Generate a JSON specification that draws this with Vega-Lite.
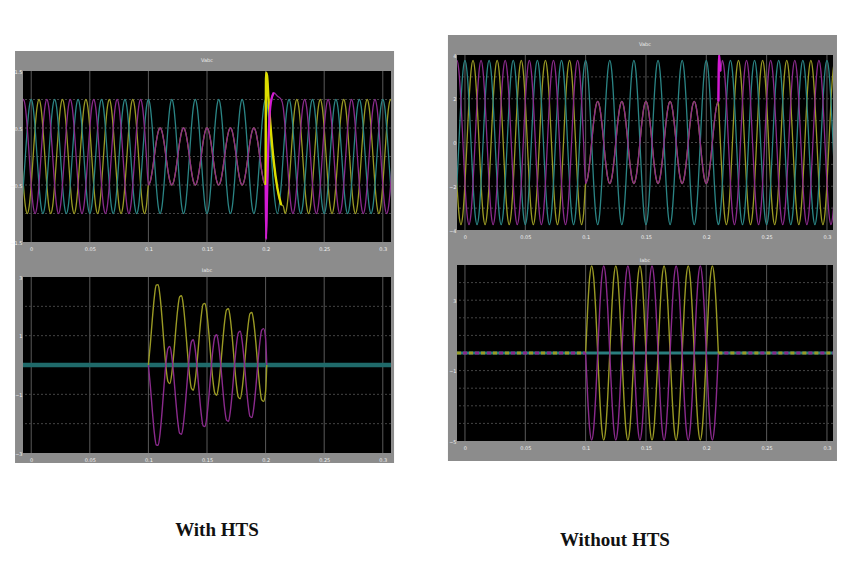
{
  "$schema": "https://vega.github.io/schema/vega-lite/v6.json",
  "background": "#ffffff",
  "padding": {"left": 9, "top": 10, "right": 0, "bottom": 0},
  "spacing": 52,
  "config": {
    "view": {"stroke": null},
    "axis": {"domain": false, "ticks": false, "grid": false, "labelFontSize": 5, "labelColor": "#f0f0f0", "labelFont": "DejaVu Sans", "zindex": 1, "labelOverlap": false, "labelFlush": false},
    "axisX": {"labelPadding": 4},
    "axisY": {"labelPadding": 1},
    "title": {"fontSize": 5, "color": "#eeeeee", "font": "DejaVu Sans", "fontWeight": "normal", "offset": -12, "anchor": "middle"}
  },
  "datasets": {
    "xg": [{"g": 0}, {"g": 50}, {"g": 100}, {"g": 150}, {"g": 200}, {"g": 250}, {"g": 300}],
    "lt": [
      {"t":-8.33,"a":-0.866,"b":0,"c":0.866},{"t":-6.67,"a":-0.5,"b":-0.5,"c":1},{"t":-5,"a":0,"b":-0.866,"c":0.866},{"t":-3.33,"a":0.5,"b":-1,"c":0.5},{"t":-1.67,"a":0.866,"b":-0.866,"c":0},
      {"t":0,"a":1,"b":-0.5,"c":-0.5},{"t":1.67,"a":0.866,"b":0,"c":-0.866},{"t":3.33,"a":0.5,"b":0.5,"c":-1},{"t":5,"a":0,"b":0.866,"c":-0.866},{"t":6.67,"a":-0.5,"b":1,"c":-0.5},{"t":8.33,"a":-0.866,"b":0.866,"c":0},{"t":10,"a":-1,"b":0.5,"c":0.5},{"t":11.67,"a":-0.866,"b":0,"c":0.866},{"t":13.33,"a":-0.5,"b":-0.5,"c":1},{"t":15,"a":0,"b":-0.866,"c":0.866},{"t":16.67,"a":0.5,"b":-1,"c":0.5},{"t":18.33,"a":0.866,"b":-0.866,"c":0},
      {"t":20,"a":1,"b":-0.5,"c":-0.5},{"t":21.67,"a":0.866,"b":0,"c":-0.866},{"t":23.33,"a":0.5,"b":0.5,"c":-1},{"t":25,"a":0,"b":0.866,"c":-0.866},{"t":26.67,"a":-0.5,"b":1,"c":-0.5},{"t":28.33,"a":-0.866,"b":0.866,"c":0},{"t":30,"a":-1,"b":0.5,"c":0.5},{"t":31.67,"a":-0.866,"b":0,"c":0.866},{"t":33.33,"a":-0.5,"b":-0.5,"c":1},{"t":35,"a":0,"b":-0.866,"c":0.866},{"t":36.67,"a":0.5,"b":-1,"c":0.5},{"t":38.33,"a":0.866,"b":-0.866,"c":0},
      {"t":40,"a":1,"b":-0.5,"c":-0.5},{"t":41.67,"a":0.866,"b":0,"c":-0.866},{"t":43.33,"a":0.5,"b":0.5,"c":-1},{"t":45,"a":0,"b":0.866,"c":-0.866},{"t":46.67,"a":-0.5,"b":1,"c":-0.5},{"t":48.33,"a":-0.866,"b":0.866,"c":0},{"t":50,"a":-1,"b":0.5,"c":0.5},{"t":51.67,"a":-0.866,"b":0,"c":0.866},{"t":53.33,"a":-0.5,"b":-0.5,"c":1},{"t":55,"a":0,"b":-0.866,"c":0.866},{"t":56.67,"a":0.5,"b":-1,"c":0.5},{"t":58.33,"a":0.866,"b":-0.866,"c":0},
      {"t":60,"a":1,"b":-0.5,"c":-0.5},{"t":61.67,"a":0.866,"b":0,"c":-0.866},{"t":63.33,"a":0.5,"b":0.5,"c":-1},{"t":65,"a":0,"b":0.866,"c":-0.866},{"t":66.67,"a":-0.5,"b":1,"c":-0.5},{"t":68.33,"a":-0.866,"b":0.866,"c":0},{"t":70,"a":-1,"b":0.5,"c":0.5},{"t":71.67,"a":-0.866,"b":0,"c":0.866},{"t":73.33,"a":-0.5,"b":-0.5,"c":1},{"t":75,"a":0,"b":-0.866,"c":0.866},{"t":76.67,"a":0.5,"b":-1,"c":0.5},{"t":78.33,"a":0.866,"b":-0.866,"c":0},
      {"t":80,"a":1,"b":-0.5,"c":-0.5},{"t":81.67,"a":0.866,"b":0,"c":-0.866},{"t":83.33,"a":0.5,"b":0.5,"c":-1},{"t":85,"a":0,"b":0.866,"c":-0.866},{"t":86.67,"a":-0.5,"b":1,"c":-0.5},{"t":88.33,"a":-0.866,"b":0.866,"c":0},{"t":90,"a":-1,"b":0.5,"c":0.5},{"t":91.67,"a":-0.866,"b":0,"c":0.866},{"t":93.33,"a":-0.5,"b":-0.5,"c":1},{"t":95,"a":0,"b":-0.866,"c":0.866},{"t":96.67,"a":0.5,"b":-1,"c":0.5},{"t":98.33,"a":0.866,"b":-0.866,"c":0},
      {"t":100,"a":1,"b":-0.5,"c":-0.5},{"t":101.67,"a":0.866,"b":-0.433,"c":-0.433},{"t":103.33,"a":0.5,"b":-0.25,"c":-0.25},{"t":105,"a":0,"b":0,"c":0},{"t":106.67,"a":-0.5,"b":0.25,"c":0.25},{"t":108.33,"a":-0.866,"b":0.433,"c":0.433},{"t":110,"a":-1,"b":0.5,"c":0.5},{"t":111.67,"a":-0.866,"b":0.433,"c":0.433},{"t":113.33,"a":-0.5,"b":0.25,"c":0.25},{"t":115,"a":0,"b":0,"c":0},{"t":116.67,"a":0.5,"b":-0.25,"c":-0.25},{"t":118.33,"a":0.866,"b":-0.433,"c":-0.433},
      {"t":120,"a":1,"b":-0.5,"c":-0.5},{"t":121.67,"a":0.866,"b":-0.433,"c":-0.433},{"t":123.33,"a":0.5,"b":-0.25,"c":-0.25},{"t":125,"a":0,"b":0,"c":0},{"t":126.67,"a":-0.5,"b":0.25,"c":0.25},{"t":128.33,"a":-0.866,"b":0.433,"c":0.433},{"t":130,"a":-1,"b":0.5,"c":0.5},{"t":131.67,"a":-0.866,"b":0.433,"c":0.433},{"t":133.33,"a":-0.5,"b":0.25,"c":0.25},{"t":135,"a":0,"b":0,"c":0},{"t":136.67,"a":0.5,"b":-0.25,"c":-0.25},{"t":138.33,"a":0.866,"b":-0.433,"c":-0.433},
      {"t":140,"a":1,"b":-0.5,"c":-0.5},{"t":141.67,"a":0.866,"b":-0.433,"c":-0.433},{"t":143.33,"a":0.5,"b":-0.25,"c":-0.25},{"t":145,"a":0,"b":0,"c":0},{"t":146.67,"a":-0.5,"b":0.25,"c":0.25},{"t":148.33,"a":-0.866,"b":0.433,"c":0.433},{"t":150,"a":-1,"b":0.5,"c":0.5},{"t":151.67,"a":-0.866,"b":0.433,"c":0.433},{"t":153.33,"a":-0.5,"b":0.25,"c":0.25},{"t":155,"a":0,"b":0,"c":0},{"t":156.67,"a":0.5,"b":-0.25,"c":-0.25},{"t":158.33,"a":0.866,"b":-0.433,"c":-0.433},
      {"t":160,"a":1,"b":-0.5,"c":-0.5},{"t":161.67,"a":0.866,"b":-0.433,"c":-0.433},{"t":163.33,"a":0.5,"b":-0.25,"c":-0.25},{"t":165,"a":0,"b":0,"c":0},{"t":166.67,"a":-0.5,"b":0.25,"c":0.25},{"t":168.33,"a":-0.866,"b":0.433,"c":0.433},{"t":170,"a":-1,"b":0.5,"c":0.5},{"t":171.67,"a":-0.866,"b":0.433,"c":0.433},{"t":173.33,"a":-0.5,"b":0.25,"c":0.25},{"t":175,"a":0,"b":0,"c":0},{"t":176.67,"a":0.5,"b":-0.25,"c":-0.25},{"t":178.33,"a":0.866,"b":-0.433,"c":-0.433},
      {"t":180,"a":1,"b":-0.5,"c":-0.5},{"t":181.67,"a":0.866,"b":-0.433,"c":-0.433},{"t":183.33,"a":0.5,"b":-0.25,"c":-0.25},{"t":185,"a":0,"b":0,"c":0},{"t":186.67,"a":-0.5,"b":0.25,"c":0.25},{"t":188.33,"a":-0.866,"b":0.433,"c":0.433},{"t":190,"a":-1,"b":0.5,"c":0.5},{"t":191.67,"a":-0.866,"b":0.433,"c":0.433},{"t":193.33,"a":-0.5,"b":0.25,"c":0.25},{"t":195,"a":0,"b":0,"c":0},{"t":196.67,"a":0.5,"b":-0.25,"c":-0.25},{"t":198.33,"a":0.866,"b":-0.433,"c":-0.433},
      {"t":200,"a":1,"b":-0.5,"c":-0.5},{"t":200.4,"a":0.992,"b":1.47,"c":-1.45},{"t":201.2,"a":0.93,"b":1.42,"c":-0.75},{"t":202.5,"a":0.707,"b":1,"c":0.3},{"t":204.5,"a":0.156,"b":0.45,"c":0.95},{"t":207,"a":-0.588,"b":-0.1,"c":1.12},{"t":210,"a":-1,"b":-0.55,"c":1.06},{"t":213.33,"a":-0.5,"b":-0.85,"c":1},{"t":215,"a":0,"b":-0.866,"c":0.866},{"t":216.67,"a":0.5,"b":-1,"c":0.5},{"t":218.33,"a":0.866,"b":-0.866,"c":0},
      {"t":220,"a":1,"b":-0.5,"c":-0.5},{"t":221.67,"a":0.866,"b":0,"c":-0.866},{"t":223.33,"a":0.5,"b":0.5,"c":-1},{"t":225,"a":0,"b":0.866,"c":-0.866},{"t":226.67,"a":-0.5,"b":1,"c":-0.5},{"t":228.33,"a":-0.866,"b":0.866,"c":0},{"t":230,"a":-1,"b":0.5,"c":0.5},{"t":231.67,"a":-0.866,"b":0,"c":0.866},{"t":233.33,"a":-0.5,"b":-0.5,"c":1},{"t":235,"a":0,"b":-0.866,"c":0.866},{"t":236.67,"a":0.5,"b":-1,"c":0.5},{"t":238.33,"a":0.866,"b":-0.866,"c":0},
      {"t":240,"a":1,"b":-0.5,"c":-0.5},{"t":241.67,"a":0.866,"b":0,"c":-0.866},{"t":243.33,"a":0.5,"b":0.5,"c":-1},{"t":245,"a":0,"b":0.866,"c":-0.866},{"t":246.67,"a":-0.5,"b":1,"c":-0.5},{"t":248.33,"a":-0.866,"b":0.866,"c":0},{"t":250,"a":-1,"b":0.5,"c":0.5},{"t":251.67,"a":-0.866,"b":0,"c":0.866},{"t":253.33,"a":-0.5,"b":-0.5,"c":1},{"t":255,"a":0,"b":-0.866,"c":0.866},{"t":256.67,"a":0.5,"b":-1,"c":0.5},{"t":258.33,"a":0.866,"b":-0.866,"c":0},
      {"t":260,"a":1,"b":-0.5,"c":-0.5},{"t":261.67,"a":0.866,"b":0,"c":-0.866},{"t":263.33,"a":0.5,"b":0.5,"c":-1},{"t":265,"a":0,"b":0.866,"c":-0.866},{"t":266.67,"a":-0.5,"b":1,"c":-0.5},{"t":268.33,"a":-0.866,"b":0.866,"c":0},{"t":270,"a":-1,"b":0.5,"c":0.5},{"t":271.67,"a":-0.866,"b":0,"c":0.866},{"t":273.33,"a":-0.5,"b":-0.5,"c":1},{"t":275,"a":0,"b":-0.866,"c":0.866},{"t":276.67,"a":0.5,"b":-1,"c":0.5},{"t":278.33,"a":0.866,"b":-0.866,"c":0},
      {"t":280,"a":1,"b":-0.5,"c":-0.5},{"t":281.67,"a":0.866,"b":0,"c":-0.866},{"t":283.33,"a":0.5,"b":0.5,"c":-1},{"t":285,"a":0,"b":0.866,"c":-0.866},{"t":286.67,"a":-0.5,"b":1,"c":-0.5},{"t":288.33,"a":-0.866,"b":0.866,"c":0},{"t":290,"a":-1,"b":0.5,"c":0.5},{"t":291.67,"a":-0.866,"b":0,"c":0.866},{"t":293.33,"a":-0.5,"b":-0.5,"c":1},{"t":295,"a":0,"b":-0.866,"c":0.866},{"t":296.67,"a":0.5,"b":-1,"c":0.5},{"t":298.33,"a":0.866,"b":-0.866,"c":0},
      {"t":300,"a":1,"b":-0.5,"c":-0.5},{"t":301.67,"a":0.866,"b":0,"c":-0.866},{"t":303.33,"a":0.5,"b":0.5,"c":-1},{"t":305,"a":0,"b":0.866,"c":-0.866},{"t":306.67,"a":-0.5,"b":1,"c":-0.5},{"t":308.33,"a":-0.866,"b":0.866,"c":0},{"t":310,"a":-1,"b":0.5,"c":0.5}
    ],
    "ltSpike": [
      {"t":200,"b":-0.5,"c":-0.5},{"t":200.4,"b":1.47,"c":-1.45},{"t":201.2,"b":1.42,"c":-0.75},{"t":202.5,"b":1,"c":0.3},{"t":204.5,"b":0.45,"c":0.95},{"t":207,"b":-0.1,"c":1.12},{"t":210,"b":-0.55,"c":1.06},{"t":213.33,"b":-0.85,"c":1}
    ],
    "rt": [
      {"t":-8.33,"a":-3.25,"b":0,"c":3.25},{"t":-6.67,"a":-1.88,"b":-1.88,"c":3.75},{"t":-5,"a":0,"b":-3.25,"c":3.25},{"t":-3.33,"a":1.88,"b":-3.75,"c":1.88},{"t":-1.67,"a":3.25,"b":-3.25,"c":0},
      {"t":0,"a":3.75,"b":-1.88,"c":-1.88},{"t":1.67,"a":3.25,"b":0,"c":-3.25},{"t":3.33,"a":1.88,"b":1.88,"c":-3.75},{"t":5,"a":0,"b":3.25,"c":-3.25},{"t":6.67,"a":-1.88,"b":3.75,"c":-1.88},{"t":8.33,"a":-3.25,"b":3.25,"c":0},{"t":10,"a":-3.75,"b":1.88,"c":1.88},{"t":11.67,"a":-3.25,"b":0,"c":3.25},{"t":13.33,"a":-1.88,"b":-1.88,"c":3.75},{"t":15,"a":0,"b":-3.25,"c":3.25},{"t":16.67,"a":1.88,"b":-3.75,"c":1.88},{"t":18.33,"a":3.25,"b":-3.25,"c":0},
      {"t":20,"a":3.75,"b":-1.88,"c":-1.88},{"t":21.67,"a":3.25,"b":0,"c":-3.25},{"t":23.33,"a":1.88,"b":1.88,"c":-3.75},{"t":25,"a":0,"b":3.25,"c":-3.25},{"t":26.67,"a":-1.88,"b":3.75,"c":-1.88},{"t":28.33,"a":-3.25,"b":3.25,"c":0},{"t":30,"a":-3.75,"b":1.88,"c":1.88},{"t":31.67,"a":-3.25,"b":0,"c":3.25},{"t":33.33,"a":-1.88,"b":-1.88,"c":3.75},{"t":35,"a":0,"b":-3.25,"c":3.25},{"t":36.67,"a":1.88,"b":-3.75,"c":1.88},{"t":38.33,"a":3.25,"b":-3.25,"c":0},
      {"t":40,"a":3.75,"b":-1.88,"c":-1.88},{"t":41.67,"a":3.25,"b":0,"c":-3.25},{"t":43.33,"a":1.88,"b":1.88,"c":-3.75},{"t":45,"a":0,"b":3.25,"c":-3.25},{"t":46.67,"a":-1.88,"b":3.75,"c":-1.88},{"t":48.33,"a":-3.25,"b":3.25,"c":0},{"t":50,"a":-3.75,"b":1.88,"c":1.88},{"t":51.67,"a":-3.25,"b":0,"c":3.25},{"t":53.33,"a":-1.88,"b":-1.88,"c":3.75},{"t":55,"a":0,"b":-3.25,"c":3.25},{"t":56.67,"a":1.88,"b":-3.75,"c":1.88},{"t":58.33,"a":3.25,"b":-3.25,"c":0},
      {"t":60,"a":3.75,"b":-1.88,"c":-1.88},{"t":61.67,"a":3.25,"b":0,"c":-3.25},{"t":63.33,"a":1.88,"b":1.88,"c":-3.75},{"t":65,"a":0,"b":3.25,"c":-3.25},{"t":66.67,"a":-1.88,"b":3.75,"c":-1.88},{"t":68.33,"a":-3.25,"b":3.25,"c":0},{"t":70,"a":-3.75,"b":1.88,"c":1.88},{"t":71.67,"a":-3.25,"b":0,"c":3.25},{"t":73.33,"a":-1.88,"b":-1.88,"c":3.75},{"t":75,"a":0,"b":-3.25,"c":3.25},{"t":76.67,"a":1.88,"b":-3.75,"c":1.88},{"t":78.33,"a":3.25,"b":-3.25,"c":0},
      {"t":80,"a":3.75,"b":-1.88,"c":-1.88},{"t":81.67,"a":3.25,"b":0,"c":-3.25},{"t":83.33,"a":1.88,"b":1.88,"c":-3.75},{"t":85,"a":0,"b":3.25,"c":-3.25},{"t":86.67,"a":-1.88,"b":3.75,"c":-1.88},{"t":88.33,"a":-3.25,"b":3.25,"c":0},{"t":90,"a":-3.75,"b":1.88,"c":1.88},{"t":91.67,"a":-3.25,"b":0,"c":3.25},{"t":93.33,"a":-1.88,"b":-1.88,"c":3.75},{"t":95,"a":0,"b":-3.25,"c":3.25},{"t":96.67,"a":1.88,"b":-3.75,"c":1.88},{"t":98.33,"a":3.25,"b":-3.25,"c":0},
      {"t":100,"a":3.75,"b":-1.88,"c":-1.88},{"t":101.67,"a":3.25,"b":-1.62,"c":-1.62},{"t":103.33,"a":1.88,"b":-0.94,"c":-0.94},{"t":105,"a":0,"b":0,"c":0},{"t":106.67,"a":-1.88,"b":0.94,"c":0.94},{"t":108.33,"a":-3.25,"b":1.62,"c":1.62},{"t":110,"a":-3.75,"b":1.88,"c":1.88},{"t":111.67,"a":-3.25,"b":1.62,"c":1.62},{"t":113.33,"a":-1.88,"b":0.94,"c":0.94},{"t":115,"a":0,"b":0,"c":0},{"t":116.67,"a":1.88,"b":-0.94,"c":-0.94},{"t":118.33,"a":3.25,"b":-1.62,"c":-1.62},
      {"t":120,"a":3.75,"b":-1.88,"c":-1.88},{"t":121.67,"a":3.25,"b":-1.62,"c":-1.62},{"t":123.33,"a":1.88,"b":-0.94,"c":-0.94},{"t":125,"a":0,"b":0,"c":0},{"t":126.67,"a":-1.88,"b":0.94,"c":0.94},{"t":128.33,"a":-3.25,"b":1.62,"c":1.62},{"t":130,"a":-3.75,"b":1.88,"c":1.88},{"t":131.67,"a":-3.25,"b":1.62,"c":1.62},{"t":133.33,"a":-1.88,"b":0.94,"c":0.94},{"t":135,"a":0,"b":0,"c":0},{"t":136.67,"a":1.88,"b":-0.94,"c":-0.94},{"t":138.33,"a":3.25,"b":-1.62,"c":-1.62},
      {"t":140,"a":3.75,"b":-1.88,"c":-1.88},{"t":141.67,"a":3.25,"b":-1.62,"c":-1.62},{"t":143.33,"a":1.88,"b":-0.94,"c":-0.94},{"t":145,"a":0,"b":0,"c":0},{"t":146.67,"a":-1.88,"b":0.94,"c":0.94},{"t":148.33,"a":-3.25,"b":1.62,"c":1.62},{"t":150,"a":-3.75,"b":1.88,"c":1.88},{"t":151.67,"a":-3.25,"b":1.62,"c":1.62},{"t":153.33,"a":-1.88,"b":0.94,"c":0.94},{"t":155,"a":0,"b":0,"c":0},{"t":156.67,"a":1.88,"b":-0.94,"c":-0.94},{"t":158.33,"a":3.25,"b":-1.62,"c":-1.62},
      {"t":160,"a":3.75,"b":-1.88,"c":-1.88},{"t":161.67,"a":3.25,"b":-1.62,"c":-1.62},{"t":163.33,"a":1.88,"b":-0.94,"c":-0.94},{"t":165,"a":0,"b":0,"c":0},{"t":166.67,"a":-1.88,"b":0.94,"c":0.94},{"t":168.33,"a":-3.25,"b":1.62,"c":1.62},{"t":170,"a":-3.75,"b":1.88,"c":1.88},{"t":171.67,"a":-3.25,"b":1.62,"c":1.62},{"t":173.33,"a":-1.88,"b":0.94,"c":0.94},{"t":175,"a":0,"b":0,"c":0},{"t":176.67,"a":1.88,"b":-0.94,"c":-0.94},{"t":178.33,"a":3.25,"b":-1.62,"c":-1.62},
      {"t":180,"a":3.75,"b":-1.88,"c":-1.88},{"t":181.67,"a":3.25,"b":-1.62,"c":-1.62},{"t":183.33,"a":1.88,"b":-0.94,"c":-0.94},{"t":185,"a":0,"b":0,"c":0},{"t":186.67,"a":-1.88,"b":0.94,"c":0.94},{"t":188.33,"a":-3.25,"b":1.62,"c":1.62},{"t":190,"a":-3.75,"b":1.88,"c":1.88},{"t":191.67,"a":-3.25,"b":1.62,"c":1.62},{"t":193.33,"a":-1.88,"b":0.94,"c":0.94},{"t":195,"a":0,"b":0,"c":0},{"t":196.67,"a":1.88,"b":-0.94,"c":-0.94},{"t":198.33,"a":3.25,"b":-1.62,"c":-1.62},
      {"t":200,"a":3.75,"b":-1.88,"c":-1.88},{"t":201.67,"a":3.25,"b":-1.62,"c":-1.62},{"t":203.33,"a":1.88,"b":-0.94,"c":-0.94},{"t":205,"a":0,"b":0,"c":0},{"t":206.67,"a":-1.88,"b":0.94,"c":0.94},{"t":208.33,"a":-3.25,"b":1.62,"c":1.62},
      {"t":210,"a":-3.75,"b":1.88,"c":1.88},{"t":210.6,"a":-3.68,"b":1.23,"c":4},{"t":211.2,"a":-3.49,"b":0.55,"c":3.5},{"t":211.67,"a":-3.25,"b":0,"c":3.25},{"t":213.33,"a":-1.88,"b":-1.88,"c":3.75},{"t":215,"a":0,"b":-3.25,"c":3.25},{"t":216.67,"a":1.88,"b":-3.75,"c":1.88},{"t":218.33,"a":3.25,"b":-3.25,"c":0},
      {"t":220,"a":3.75,"b":-1.88,"c":-1.88},{"t":221.67,"a":3.25,"b":0,"c":-3.25},{"t":223.33,"a":1.88,"b":1.88,"c":-3.75},{"t":225,"a":0,"b":3.25,"c":-3.25},{"t":226.67,"a":-1.88,"b":3.75,"c":-1.88},{"t":228.33,"a":-3.25,"b":3.25,"c":0},{"t":230,"a":-3.75,"b":1.88,"c":1.88},{"t":231.67,"a":-3.25,"b":0,"c":3.25},{"t":233.33,"a":-1.88,"b":-1.88,"c":3.75},{"t":235,"a":0,"b":-3.25,"c":3.25},{"t":236.67,"a":1.88,"b":-3.75,"c":1.88},{"t":238.33,"a":3.25,"b":-3.25,"c":0},
      {"t":240,"a":3.75,"b":-1.88,"c":-1.88},{"t":241.67,"a":3.25,"b":0,"c":-3.25},{"t":243.33,"a":1.88,"b":1.88,"c":-3.75},{"t":245,"a":0,"b":3.25,"c":-3.25},{"t":246.67,"a":-1.88,"b":3.75,"c":-1.88},{"t":248.33,"a":-3.25,"b":3.25,"c":0},{"t":250,"a":-3.75,"b":1.88,"c":1.88},{"t":251.67,"a":-3.25,"b":0,"c":3.25},{"t":253.33,"a":-1.88,"b":-1.88,"c":3.75},{"t":255,"a":0,"b":-3.25,"c":3.25},{"t":256.67,"a":1.88,"b":-3.75,"c":1.88},{"t":258.33,"a":3.25,"b":-3.25,"c":0},
      {"t":260,"a":3.75,"b":-1.88,"c":-1.88},{"t":261.67,"a":3.25,"b":0,"c":-3.25},{"t":263.33,"a":1.88,"b":1.88,"c":-3.75},{"t":265,"a":0,"b":3.25,"c":-3.25},{"t":266.67,"a":-1.88,"b":3.75,"c":-1.88},{"t":268.33,"a":-3.25,"b":3.25,"c":0},{"t":270,"a":-3.75,"b":1.88,"c":1.88},{"t":271.67,"a":-3.25,"b":0,"c":3.25},{"t":273.33,"a":-1.88,"b":-1.88,"c":3.75},{"t":275,"a":0,"b":-3.25,"c":3.25},{"t":276.67,"a":1.88,"b":-3.75,"c":1.88},{"t":278.33,"a":3.25,"b":-3.25,"c":0},
      {"t":280,"a":3.75,"b":-1.88,"c":-1.88},{"t":281.67,"a":3.25,"b":0,"c":-3.25},{"t":283.33,"a":1.88,"b":1.88,"c":-3.75},{"t":285,"a":0,"b":3.25,"c":-3.25},{"t":286.67,"a":-1.88,"b":3.75,"c":-1.88},{"t":288.33,"a":-3.25,"b":3.25,"c":0},{"t":290,"a":-3.75,"b":1.88,"c":1.88},{"t":291.67,"a":-3.25,"b":0,"c":3.25},{"t":293.33,"a":-1.88,"b":-1.88,"c":3.75},{"t":295,"a":0,"b":-3.25,"c":3.25},{"t":296.67,"a":1.88,"b":-3.75,"c":1.88},{"t":298.33,"a":3.25,"b":-3.25,"c":0},
      {"t":300,"a":3.75,"b":-1.88,"c":-1.88},{"t":301.67,"a":3.25,"b":0,"c":-3.25},{"t":303.33,"a":1.88,"b":1.88,"c":-3.75},{"t":305,"a":0,"b":3.25,"c":-3.25},{"t":306.67,"a":-1.88,"b":3.75,"c":-1.88},{"t":308.33,"a":-3.25,"b":3.25,"c":0},{"t":310,"a":-3.75,"b":1.88,"c":1.88}
    ],
    "rtSpike": [
      {"t":210,"c":1.88},{"t":210.6,"c":4},{"t":211.2,"c":3.5},{"t":211.67,"c":3.25}
    ],
    "lb": [
      {"t":100,"y":0,"m":0},{"t":101.67,"y":0.72,"m":-0.72},{"t":103.33,"y":1.55,"m":-1.55},{"t":105,"y":2.29,"m":-2.29},{"t":106.67,"y":2.72,"m":-2.72},{"t":108.33,"y":2.74,"m":-2.74},{"t":110,"y":2.32,"m":-2.32},{"t":111.67,"y":1.58,"m":-1.58},{"t":113.33,"y":0.71,"m":-0.71},{"t":115,"y":-0.07,"m":0.07},{"t":116.67,"y":-0.56,"m":0.56},{"t":118.33,"y":-0.63,"m":0.63},
      {"t":120,"y":-0.28,"m":0.28},{"t":121.67,"y":0.39,"m":-0.39},{"t":123.33,"y":1.19,"m":-1.19},{"t":125,"y":1.9,"m":-1.9},{"t":126.67,"y":2.33,"m":-2.33},{"t":128.33,"y":2.36,"m":-2.36},{"t":130,"y":1.97,"m":-1.97},{"t":131.67,"y":1.27,"m":-1.27},{"t":133.33,"y":0.43,"m":-0.43},{"t":135,"y":-0.32,"m":0.32},{"t":136.67,"y":-0.79,"m":0.79},{"t":138.33,"y":-0.86,"m":0.86},
      {"t":140,"y":-0.51,"m":0.51},{"t":141.67,"y":0.15,"m":-0.15},{"t":143.33,"y":0.94,"m":-0.94},{"t":145,"y":1.64,"m":-1.64},{"t":146.67,"y":2.07,"m":-2.07},{"t":148.33,"y":2.1,"m":-2.1},{"t":150,"y":1.73,"m":-1.73},{"t":151.67,"y":1.04,"m":-1.04},{"t":153.33,"y":0.22,"m":-0.22},{"t":155,"y":-0.51,"m":0.51},{"t":156.67,"y":-0.96,"m":0.96},{"t":158.33,"y":-1.03,"m":1.03},
      {"t":160,"y":-0.68,"m":0.68},{"t":161.67,"y":-0.03,"m":0.03},{"t":163.33,"y":0.75,"m":-0.75},{"t":165,"y":1.46,"m":-1.46},{"t":166.67,"y":1.88,"m":-1.88},{"t":168.33,"y":1.92,"m":-1.92},{"t":170,"y":1.55,"m":-1.55},{"t":171.67,"y":0.88,"m":-0.88},{"t":173.33,"y":0.08,"m":-0.08},{"t":175,"y":-0.64,"m":0.64},{"t":176.67,"y":-1.09,"m":1.09},{"t":178.33,"y":-1.15,"m":1.15},
      {"t":180,"y":-0.81,"m":0.81},{"t":181.67,"y":-0.16,"m":0.16},{"t":183.33,"y":0.63,"m":-0.63},{"t":185,"y":1.32,"m":-1.32},{"t":186.67,"y":1.75,"m":-1.75},{"t":188.33,"y":1.79,"m":-1.79},{"t":190,"y":1.43,"m":-1.43},{"t":191.67,"y":0.77,"m":-0.77},{"t":193.33,"y":-0.03,"m":0.03},{"t":195,"y":-0.74,"m":0.74},{"t":196.67,"y":-1.19,"m":1.19},{"t":198.33,"y":-1.24,"m":1.24},
      {"t":200,"y":-0.9,"m":0.9},{"t":201,"y":0,"m":0}
    ],
    "rb": [
      {"t":100,"y":0,"m":0},{"t":101.67,"y":2.48,"m":-2.48},{"t":103.33,"y":4.29,"m":-4.29},{"t":105,"y":4.95,"m":-4.95},{"t":106.67,"y":4.29,"m":-4.29},{"t":108.33,"y":2.48,"m":-2.48},{"t":110,"y":0,"m":0},{"t":111.67,"y":-2.48,"m":2.48},{"t":113.33,"y":-4.29,"m":4.29},{"t":115,"y":-4.95,"m":4.95},{"t":116.67,"y":-4.29,"m":4.29},{"t":118.33,"y":-2.48,"m":2.48},
      {"t":120,"y":0,"m":0},{"t":121.67,"y":2.48,"m":-2.48},{"t":123.33,"y":4.29,"m":-4.29},{"t":125,"y":4.95,"m":-4.95},{"t":126.67,"y":4.29,"m":-4.29},{"t":128.33,"y":2.48,"m":-2.48},{"t":130,"y":0,"m":0},{"t":131.67,"y":-2.48,"m":2.48},{"t":133.33,"y":-4.29,"m":4.29},{"t":135,"y":-4.95,"m":4.95},{"t":136.67,"y":-4.29,"m":4.29},{"t":138.33,"y":-2.48,"m":2.48},
      {"t":140,"y":0,"m":0},{"t":141.67,"y":2.48,"m":-2.48},{"t":143.33,"y":4.29,"m":-4.29},{"t":145,"y":4.95,"m":-4.95},{"t":146.67,"y":4.29,"m":-4.29},{"t":148.33,"y":2.48,"m":-2.48},{"t":150,"y":0,"m":0},{"t":151.67,"y":-2.48,"m":2.48},{"t":153.33,"y":-4.29,"m":4.29},{"t":155,"y":-4.95,"m":4.95},{"t":156.67,"y":-4.29,"m":4.29},{"t":158.33,"y":-2.48,"m":2.48},
      {"t":160,"y":0,"m":0},{"t":161.67,"y":2.48,"m":-2.48},{"t":163.33,"y":4.29,"m":-4.29},{"t":165,"y":4.95,"m":-4.95},{"t":166.67,"y":4.29,"m":-4.29},{"t":168.33,"y":2.48,"m":-2.48},{"t":170,"y":0,"m":0},{"t":171.67,"y":-2.48,"m":2.48},{"t":173.33,"y":-4.29,"m":4.29},{"t":175,"y":-4.95,"m":4.95},{"t":176.67,"y":-4.29,"m":4.29},{"t":178.33,"y":-2.48,"m":2.48},
      {"t":180,"y":0,"m":0},{"t":181.67,"y":2.48,"m":-2.48},{"t":183.33,"y":4.29,"m":-4.29},{"t":185,"y":4.95,"m":-4.95},{"t":186.67,"y":4.29,"m":-4.29},{"t":188.33,"y":2.48,"m":-2.48},{"t":190,"y":0,"m":0},{"t":191.67,"y":-2.48,"m":2.48},{"t":193.33,"y":-4.29,"m":4.29},{"t":195,"y":-4.95,"m":4.95},{"t":196.67,"y":-4.29,"m":4.29},{"t":198.33,"y":-2.48,"m":2.48},
      {"t":200,"y":0,"m":0},{"t":201.67,"y":2.48,"m":-2.48},{"t":203.33,"y":4.29,"m":-4.29},{"t":205,"y":4.95,"m":-4.95},{"t":206.67,"y":4.29,"m":-4.29},{"t":208.33,"y":2.48,"m":-2.48},{"t":210,"y":0,"m":0}
    ]
  },
  "hconcat": [
    {
      "bounds": "flush",
      "spacing": 35,
      "vconcat": [
        {
          "width": 368, "height": 26,
          "data": {"values": [{}]},
          "mark": {"type": "rect", "color": "#ffffff"},
          "encoding": {
            "x": {"datum": 0, "type": "quantitative", "scale": {"domain": [0, 1]}, "axis": null},
            "x2": {"datum": 1},
            "y": {"datum": 0, "type": "quantitative", "scale": {"domain": [0, 1]}, "axis": null},
            "y2": {"datum": 1}
          }
        },
        {
          "width": 368, "height": 171,
          "title": "Vabc",
          "layer": [
            {
              "data": {"values": [{}]},
              "mark": {"type": "rect", "color": "#8c8c8c"},
              "encoding": {
                "x": {"datum": -13.8, "type": "quantitative", "scale": {"domain": [-7, 307], "nice": false, "zero": false}, "axis": {"zindex": 2, "values": [0, 50, 100, 150, 200, 250, 300], "labelExpr": "format(datum.value / 1000, '~g')"}},
                "x2": {"datum": 309.6},
                "y": {"datum": 1.851, "type": "quantitative", "scale": {"domain": [-1.5, 1.5], "nice": false, "zero": false}, "axis": {"zindex": 2, "values": [-1.5, -1, -0.5, 0, 0.5, 1, 1.5]}},
                "y2": {"datum": -2.12}
              }
            },
            {
              "data": {"values": [{}]},
              "mark": {"type": "rect", "color": "#000000"},
              "encoding": {"x": {"datum": -7}, "x2": {"datum": 307}, "y": {"datum": 1.5}, "y2": {"datum": -1.5}}
            },
            {
              "data": {"name": "xg"},
              "mark": {"type": "rule", "color": "#5a5a5a", "strokeWidth": 1},
              "encoding": {"x": {"field": "g", "type": "quantitative", "title": null}}
            },
            {
              "data": {"values": [{"g": -1}, {"g": -0.5}, {"g": 0}, {"g": 0.5}, {"g": 1}]},
              "mark": {"type": "rule", "color": "#444444", "strokeDash": [2, 2]},
              "encoding": {"y": {"field": "g", "type": "quantitative", "title": null}}
            },
            {
              "data": {"name": "lt"},
              "mark": {"type": "line", "clip": true, "interpolate": "monotone", "color": "#9a9a24", "strokeWidth": 1.3},
              "encoding": {"x": {"field": "t", "type": "quantitative", "title": null}, "y": {"field": "b", "type": "quantitative", "title": null}}
            },
            {
              "data": {"name": "lt"},
              "mark": {"type": "line", "clip": true, "interpolate": "monotone", "color": "#2b8585", "strokeWidth": 1.3},
              "encoding": {"x": {"field": "t", "type": "quantitative", "title": null}, "y": {"field": "a", "type": "quantitative", "title": null}}
            },
            {
              "data": {"name": "lt"},
              "mark": {"type": "line", "clip": true, "interpolate": "monotone", "color": "#8a2a8c", "strokeWidth": 1.3},
              "encoding": {"x": {"field": "t", "type": "quantitative", "title": null}, "y": {"field": "c", "type": "quantitative", "title": null}}
            },
            {
              "data": {"name": "ltSpike"},
              "mark": {"type": "line", "clip": true, "interpolate": "monotone", "color": "#dcdc00", "strokeWidth": 2.4},
              "encoding": {"x": {"field": "t", "type": "quantitative", "title": null}, "y": {"field": "b", "type": "quantitative", "title": null}}
            },
            {
              "data": {"name": "ltSpike"},
              "transform": [{"filter": "datum.t <= 207"}],
              "mark": {"type": "line", "clip": true, "interpolate": "monotone", "color": "#d21ad2", "strokeWidth": 2.2},
              "encoding": {"x": {"field": "t", "type": "quantitative", "title": null}, "y": {"field": "c", "type": "quantitative", "title": null}}
            }
          ]
        },
        {
          "width": 368, "height": 176,
          "title": {"text": "Iabc", "offset": 2},
          "layer": [
            {
              "data": {"values": [{}]},
              "mark": {"type": "rect", "color": "#8c8c8c"},
              "encoding": {
                "x": {"datum": -13.8, "type": "quantitative", "scale": {"domain": [-7, 307], "nice": false, "zero": false}, "axis": {"zindex": 2, "values": [0, 50, 100, 150, 200, 250, 300], "labelExpr": "format(datum.value / 1000, '~g')"}},
                "x2": {"datum": 309.6},
                "y": {"datum": 3, "type": "quantitative", "scale": {"domain": [-3, 3], "nice": false, "zero": false}, "axis": {"zindex": 2, "values": [-3, -2, -1, 0, 1, 2, 3]}},
                "y2": {"datum": -3.341}
              }
            },
            {
              "data": {"values": [{}]},
              "mark": {"type": "rect", "color": "#000000"},
              "encoding": {"x": {"datum": -7}, "x2": {"datum": 307}, "y": {"datum": 3}, "y2": {"datum": -3}}
            },
            {
              "data": {"name": "xg"},
              "mark": {"type": "rule", "color": "#5a5a5a", "strokeWidth": 1},
              "encoding": {"x": {"field": "g", "type": "quantitative", "title": null}}
            },
            {
              "data": {"values": [{"g": -2}, {"g": -1}, {"g": 1}, {"g": 2}]},
              "mark": {"type": "rule", "color": "#444444", "strokeDash": [2, 2]},
              "encoding": {"y": {"field": "g", "type": "quantitative", "title": null}}
            },
            {
              "data": {"values": [{}]},
              "mark": {"type": "rule", "color": "#1f6a6a", "strokeWidth": 4.5},
              "encoding": {"y": {"datum": 0}}
            },
            {
              "data": {"name": "lb"},
              "mark": {"type": "line", "clip": true, "interpolate": "monotone", "color": "#9a9a24", "strokeWidth": 1.4},
              "encoding": {"x": {"field": "t", "type": "quantitative", "title": null}, "y": {"field": "y", "type": "quantitative", "title": null}}
            },
            {
              "data": {"name": "lb"},
              "mark": {"type": "line", "clip": true, "interpolate": "monotone", "color": "#8a2a8c", "strokeWidth": 1.4},
              "encoding": {"x": {"field": "t", "type": "quantitative", "title": null}, "y": {"field": "m", "type": "quantitative", "title": null}}
            }
          ]
        },
        {
          "width": 368, "height": 80,
          "data": {"values": [{"caption": "With HTS"}]},
          "mark": {"type": "text", "font": "Liberation Serif", "fontWeight": "bold", "fontSize": 19, "color": "#111111", "align": "center", "baseline": "middle"},
          "encoding": {
            "text": {"field": "caption"},
            "x": {"datum": 0.527, "type": "quantitative", "scale": {"domain": [0, 1]}, "axis": null},
            "y": {"datum": 0.525, "type": "quantitative", "scale": {"domain": [0, 1], "reverse": true}, "axis": null}
          }
        }
      ]
    },
    {
      "bounds": "flush",
      "spacing": 35,
      "vconcat": [
        {
          "width": 376, "height": 10,
          "data": {"values": [{}]},
          "mark": {"type": "rect", "color": "#ffffff"},
          "encoding": {
            "x": {"datum": 0, "type": "quantitative", "scale": {"domain": [0, 1]}, "axis": null},
            "x2": {"datum": 1},
            "y": {"datum": 0, "type": "quantitative", "scale": {"domain": [0, 1]}, "axis": null},
            "y2": {"datum": 1}
          }
        },
        {
          "width": 376, "height": 175,
          "title": "Vabc",
          "layer": [
            {
              "data": {"values": [{}]},
              "mark": {"type": "rect", "color": "#8c8c8c"},
              "encoding": {
                "x": {"datum": -14.1, "type": "quantitative", "scale": {"domain": [-6.6, 305], "nice": false, "zero": false}, "axis": {"zindex": 2, "values": [0, 50, 100, 150, 200, 250, 300], "labelExpr": "format(datum.value / 1000, '~g')"}},
                "x2": {"datum": 308.3},
                "y": {"datum": 4.914, "type": "quantitative", "scale": {"domain": [-4, 4], "nice": false, "zero": false}, "axis": {"zindex": 2, "values": [-4, -3, -2, -1, 0, 1, 2, 3, 4]}},
                "y2": {"datum": -5.62}
              }
            },
            {
              "data": {"values": [{}]},
              "mark": {"type": "rect", "color": "#000000"},
              "encoding": {"x": {"datum": -6.6}, "x2": {"datum": 305}, "y": {"datum": 4}, "y2": {"datum": -4}}
            },
            {
              "data": {"name": "xg"},
              "mark": {"type": "rule", "color": "#5a5a5a", "strokeWidth": 1},
              "encoding": {"x": {"field": "g", "type": "quantitative", "title": null}}
            },
            {
              "data": {"values": [{"g": -3}, {"g": -2}, {"g": -1}, {"g": 0}, {"g": 1}, {"g": 2}, {"g": 3}]},
              "mark": {"type": "rule", "color": "#444444", "strokeDash": [2, 2]},
              "encoding": {"y": {"field": "g", "type": "quantitative", "title": null}}
            },
            {
              "data": {"name": "rt"},
              "mark": {"type": "line", "clip": true, "interpolate": "monotone", "color": "#9a9a24", "strokeWidth": 1.3},
              "encoding": {"x": {"field": "t", "type": "quantitative", "title": null}, "y": {"field": "b", "type": "quantitative", "title": null}}
            },
            {
              "data": {"name": "rt"},
              "mark": {"type": "line", "clip": true, "interpolate": "monotone", "color": "#2b8585", "strokeWidth": 1.3},
              "encoding": {"x": {"field": "t", "type": "quantitative", "title": null}, "y": {"field": "a", "type": "quantitative", "title": null}}
            },
            {
              "data": {"name": "rt"},
              "mark": {"type": "line", "clip": true, "interpolate": "monotone", "color": "#8a2a8c", "strokeWidth": 1.3},
              "encoding": {"x": {"field": "t", "type": "quantitative", "title": null}, "y": {"field": "c", "type": "quantitative", "title": null}}
            },
            {
              "data": {"name": "rtSpike"},
              "mark": {"type": "line", "clip": true, "interpolate": "monotone", "color": "#d21ad2", "strokeWidth": 2.4},
              "encoding": {"x": {"field": "t", "type": "quantitative", "title": null}, "y": {"field": "c", "type": "quantitative", "title": null}}
            }
          ]
        },
        {
          "width": 376, "height": 176,
          "title": {"text": "Iabc", "offset": 2},
          "layer": [
            {
              "data": {"values": [{}]},
              "mark": {"type": "rect", "color": "#8c8c8c"},
              "encoding": {
                "x": {"datum": -14.1, "type": "quantitative", "scale": {"domain": [-6.6, 305], "nice": false, "zero": false}, "axis": {"zindex": 2, "values": [0, 50, 100, 150, 200, 250, 300], "labelExpr": "format(datum.value / 1000, '~g')"}},
                "x2": {"datum": 308.3},
                "y": {"datum": 5, "type": "quantitative", "scale": {"domain": [-5, 5], "nice": false, "zero": false}, "axis": {"zindex": 2, "values": [-5, -4, -3, -2, -1, 0, 1, 2, 3, 4, 5]}},
                "y2": {"datum": -6.136}
              }
            },
            {
              "data": {"values": [{}]},
              "mark": {"type": "rect", "color": "#000000"},
              "encoding": {"x": {"datum": -6.6}, "x2": {"datum": 305}, "y": {"datum": 5}, "y2": {"datum": -5}}
            },
            {
              "data": {"name": "xg"},
              "mark": {"type": "rule", "color": "#5a5a5a", "strokeWidth": 1},
              "encoding": {"x": {"field": "g", "type": "quantitative", "title": null}}
            },
            {
              "data": {"values": [{"g": -4}, {"g": -3}, {"g": -2}, {"g": -1}, {"g": 1}, {"g": 2}, {"g": 3}, {"g": 4}]},
              "mark": {"type": "rule", "color": "#444444", "strokeDash": [2, 2]},
              "encoding": {"y": {"field": "g", "type": "quantitative", "title": null}}
            },
            {
              "data": {"values": [{}]},
              "mark": {"type": "rule", "color": "#2a7e7e", "strokeWidth": 3},
              "encoding": {"y": {"datum": 0}}
            },
            {
              "data": {"name": "rb"},
              "mark": {"type": "line", "clip": true, "interpolate": "monotone", "color": "#9a9a24", "strokeWidth": 1.4},
              "encoding": {"x": {"field": "t", "type": "quantitative", "title": null}, "y": {"field": "y", "type": "quantitative", "title": null}}
            },
            {
              "data": {"name": "rb"},
              "mark": {"type": "line", "clip": true, "interpolate": "monotone", "color": "#8a2a8c", "strokeWidth": 1.4},
              "encoding": {"x": {"field": "t", "type": "quantitative", "title": null}, "y": {"field": "m", "type": "quantitative", "title": null}}
            },
            {
              "data": {"values": [{"from": -6.6, "to": 100}, {"from": 210, "to": 305}]},
              "mark": {"type": "rule", "color": "#9a9a24", "strokeWidth": 3, "strokeDash": [4, 8]},
              "encoding": {"x": {"field": "from", "type": "quantitative", "title": null}, "x2": {"field": "to"}, "y": {"datum": 0}}
            },
            {
              "data": {"values": [{"from": -6.6, "to": 100}, {"from": 210, "to": 305}]},
              "mark": {"type": "rule", "color": "#8a2a8c", "strokeWidth": 3, "strokeDash": [4, 8], "strokeDashOffset": 6},
              "encoding": {"x": {"field": "from", "type": "quantitative", "title": null}, "x2": {"field": "to"}, "y": {"datum": 0}}
            }
          ]
        },
        {
          "width": 376, "height": 92,
          "data": {"values": [{"caption": "Without HTS"}]},
          "mark": {"type": "text", "font": "Liberation Serif", "fontWeight": "bold", "fontSize": 19, "color": "#111111", "align": "center", "baseline": "middle"},
          "encoding": {
            "text": {"field": "caption"},
            "x": {"datum": 0.42, "type": "quantitative", "scale": {"domain": [0, 1]}, "axis": null},
            "y": {"datum": 0.696, "type": "quantitative", "scale": {"domain": [0, 1], "reverse": true}, "axis": null}
          }
        }
      ]
    }
  ]
}
